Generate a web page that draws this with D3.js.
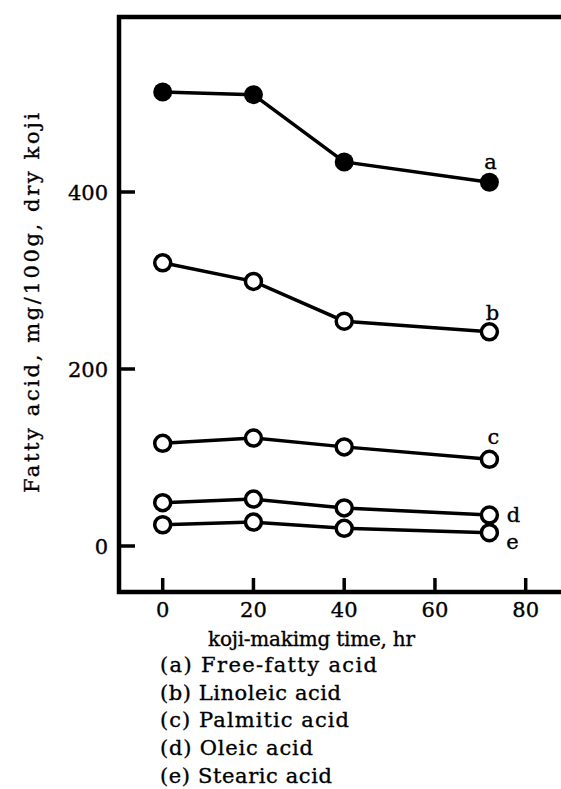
<!DOCTYPE html>
<html>
<head>
<meta charset="utf-8">
<script src="https://cdn.jsdelivr.net/npm/d3@7"></script>
<style>
  html, body { margin: 0; padding: 0; background: #fff; }
  svg { display: block; }
  text { font-family: "DejaVu Serif", "Liberation Serif", serif; fill: #000; stroke: #000; stroke-width: 0.35; }
</style>
</head>
<body>
<svg id="chart" width="561" height="789"></svg>
<script>
// ---- data ----
const times = [0, 20, 40, 72];
const seriesKeys = ["a", "b", "c", "d", "e"];
const valuesA = [513, 510, 434, 411];
const valuesB = [320, 299, 254, 242];
const valuesC = [116, 122, 112, 98];
const valuesD = [49, 53, 43, 35];
const valuesE = [24, 27, 20, 15];
const filled = [true, false, false, false, false];
const xTicks = [0, 20, 40, 60, 80];
const yTicks = [0, 200, 400];
const legendLines = ["(a)  Free-fatty acid", "(b)  Linoleic acid", "(c)  Palmitic acid", "(d)  Oleic acid", "(e)  Stearic acid"];
const xTitle = "koji-makimg  time,  hr";
const yTitle = "Fatty  acid,  mg/100g,  dry  koji";

const allValues = [valuesA, valuesB, valuesC, valuesD, valuesE];
const series = seriesKeys.map((k, i) => ({
  key: k, filled: filled[i],
  pts: times.map((t, j) => ({ t: t, v: allValues[i][j] }))
}));

// ---- layout ----
const svg = d3.select("#chart");
const x = d3.scaleLinear().domain([0, 80]).range([162.7, 525.7]);
const y = d3.scaleLinear().domain([0, 400]).range([546, 192]);
const frameLeft = 119, frameTop = 17, frameBottom = 592, frameRight = 561;

// frame (left, top, bottom; open right edge cut by page)
svg.append("path")
  .attr("d", `M${frameRight},${frameTop} L${frameLeft},${frameTop} L${frameLeft},${frameBottom} L${frameRight},${frameBottom}`)
  .attr("fill", "none").attr("stroke", "#000").attr("stroke-width", 4.5)
  .attr("stroke-linejoin", "miter");

// y ticks
svg.selectAll(".ytick").data(yTicks).enter().append("line")
  .attr("x1", frameLeft).attr("x2", frameLeft + 16)
  .attr("y1", d => y(d)).attr("y2", d => y(d))
  .attr("stroke", "#000").attr("stroke-width", 3.5);
svg.selectAll(".ylab").data(yTicks).enter().append("text")
  .attr("x", 108).attr("y", d => y(d) + 8)
  .attr("text-anchor", "end").attr("font-size", 21)
  .text(d => d);

// x ticks
svg.selectAll(".xtick").data(xTicks).enter().append("line")
  .attr("x1", d => x(d)).attr("x2", d => x(d))
  .attr("y1", frameBottom).attr("y2", frameBottom - 14)
  .attr("stroke", "#000").attr("stroke-width", 3.5);
svg.selectAll(".xlab").data(xTicks).enter().append("text")
  .attr("x", d => x(d)).attr("y", 617)
  .attr("text-anchor", "middle").attr("font-size", 21)
  .text(d => d);

// axis titles
svg.append("text")
  .attr("x", 208).attr("y", 646)
  .attr("font-size", 20)
  .attr("textLength", 207).attr("lengthAdjust", "spacing")
  .text(xTitle);
svg.append("text")
  .attr("transform", "translate(39,493) rotate(-90)")
  .attr("font-size", 21)
  .attr("textLength", 380).attr("lengthAdjust", "spacing")
  .text(yTitle);

// lines
const line = d3.line().x(d => x(d.t)).y(d => y(d.v));
svg.selectAll(".series").data(series).enter().append("path")
  .attr("d", d => line(d.pts))
  .attr("fill", "none").attr("stroke", "#000").attr("stroke-width", 3.5);

// markers
series.forEach(s => {
  svg.selectAll(null).data(s.pts).enter().append("circle")
    .attr("cx", d => x(d.t)).attr("cy", d => y(d.v))
    .attr("r", s.filled ? 9.5 : 8)
    .attr("fill", s.filled ? "#000" : "#fff")
    .attr("stroke", "#000").attr("stroke-width", s.filled ? 0 : 3.5);
});

// series end labels
const labelOffsets = { a: [1, -20], b: [3, -19], c: [4, -22], d: [24, 0], e: [23, 9] };
series.forEach(s => {
  const last = s.pts[s.pts.length - 1];
  const off = labelOffsets[s.key];
  svg.append("text")
    .attr("x", x(last.t) + off[0]).attr("y", y(last.v) + off[1] + 7)
    .attr("text-anchor", "middle").attr("font-size", 21)
    .text(s.key);
});

// legend
const legendLens = [217, 181, 189, 153, 172];
svg.selectAll(".leg").data(legendLines).enter().append("text")
  .attr("x", 160).attr("y", (d, i) => 672 + i * 27.7)
  .attr("font-size", 21)
  .attr("textLength", (d, i) => legendLens[i]).attr("lengthAdjust", "spacing")
  .text(d => d);
</script>
</body>
</html>
